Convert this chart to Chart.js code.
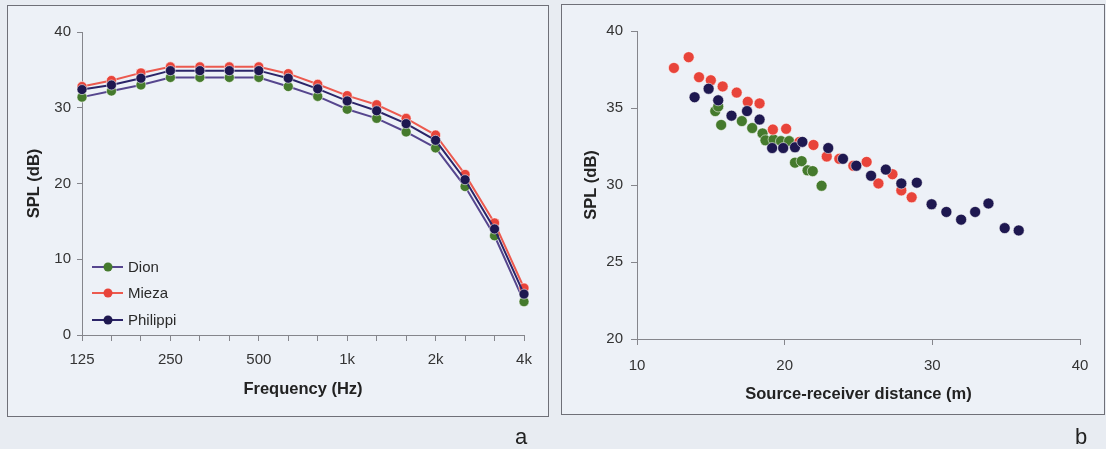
<!DOCTYPE html>
<html>
<head>
<meta charset="utf-8">
<script src="https://cdn.jsdelivr.net/npm/chart.js@4"></script>
<style>
  html, body { margin: 0; padding: 0; }
  body { width: 1106px; height: 449px; background: #e8ecf2; position: relative; overflow: hidden; font-family: "Liberation Sans", Arial, sans-serif; }
  .panel { position: absolute; box-sizing: border-box; border: 1px solid #6f7078; background: #edf1f7; }
  canvas { position: absolute; top: 0; }
  .tag { position: absolute; font-size: 22px; color: #222; font-family: "Liberation Sans", Arial, sans-serif; }
</style>
</head>
<body>
<div class="panel" style="left:7px;top:5px;width:542px;height:412px;"></div>
<div class="panel" style="left:561px;top:4px;width:544px;height:411px;"></div>
<canvas id="c1" width="553" height="449" style="left:0px;"></canvas>
<canvas id="c2" width="553" height="449" style="left:553px;"></canvas>
<div class="tag" style="left:515px;top:424px;">a</div>
<div class="tag" style="left:1075px;top:424px;">b</div>
<script>
// ---- Panel a: SPL vs frequency (1/3 octave bands) ----
const freqLabels = ['125','160','200','250','315','400','500','630','800','1k','1.25k','1.6k','2k','2.5k','3.15k','4k'];
const shownFreqLabels = ['125','250','500','1k','2k','4k'];
const dionFreq     = [31.4,32.2,33.0,34.0,34.0,34.0,34.0,32.8,31.5,29.8,28.6,26.8,24.7,19.6,13.1,4.4];
const miezaFreq    = [32.8,33.6,34.6,35.4,35.4,35.4,35.4,34.5,33.1,31.6,30.4,28.6,26.4,21.2,14.8,6.2];
const philippiFreq = [32.4,33.0,33.9,34.9,34.9,34.9,34.9,33.9,32.5,30.9,29.6,27.9,25.7,20.5,14.0,5.4];
const yTicksA = [0,10,20,30,40];

// ---- Panel b: SPL vs source-receiver distance ----
const dionDist = [15.3,15.5,15.7,17.1,17.8,18.5,18.7,19.25,19.75,20.3,20.7,21.15,21.55,21.9,22.5];
const dionSpl  = [34.8,35.1,33.9,34.15,33.7,33.35,32.9,32.95,32.85,32.85,31.45,31.55,30.95,30.9,29.95];
const miezaDist = [12.5,13.5,14.2,15.0,15.8,16.75,17.5,18.3,19.2,20.1,21.0,21.95,22.85,23.7,24.65,25.55,26.35,27.3,27.9,28.6];
const miezaSpl  = [37.6,38.3,37.0,36.8,36.4,36.0,35.4,35.3,33.6,33.65,32.8,32.6,31.85,31.7,31.25,31.5,30.1,30.7,29.65,29.2];
const philippiDist = [13.9,14.85,15.5,16.4,17.45,18.3,19.15,19.9,20.7,21.2,22.95,23.95,24.85,25.85,26.85,27.9,28.95,29.95,30.95,31.95,32.9,33.8,34.9,35.85];
const philippiSpl  = [35.7,36.25,35.5,34.5,34.8,34.25,32.4,32.4,32.45,32.8,32.4,31.7,31.25,30.6,31.0,30.1,30.15,28.75,28.25,27.75,28.25,28.8,27.2,27.05];

const siteNames = ['Dion','Mieza','Philippi'];
const pointColors = ['#457a2d','#e8443a','#1e1850'];
const lineColors  = ['#56468e','#ec5a4f','#2b2468'];
const drawOrder = [2, 1, 0]; // Philippi drawn on top, Dion underneath

Chart.defaults.font.family = '"Liberation Sans", Arial, sans-serif';
Chart.defaults.color = '#333';

const tickFont = { size: 15 };
const titleFont = { size: 16.5, weight: 'bold' };
const axisGray = '#85868c';

const legendPlugin = {
  id: 'insideLegend',
  afterDraw(chart) {
    const ctx = chart.ctx;
    const a = chart.chartArea;
    const offs = [-68, -42, -15];
    ctx.save();
    chart.data.datasets.forEach((ds, i) => {
      const y = a.bottom + offs[i];
      ctx.strokeStyle = ds.borderColor;
      ctx.lineWidth = 2;
      ctx.beginPath();
      ctx.moveTo(a.left + 10, y);
      ctx.lineTo(a.left + 41, y);
      ctx.stroke();
      ctx.fillStyle = ds.pointBackgroundColor;
      ctx.beginPath();
      ctx.arc(a.left + 26, y, 4.5, 0, Math.PI * 2);
      ctx.fill();
      ctx.fillStyle = '#2a2a2a';
      ctx.font = '15px "Liberation Sans", Arial, sans-serif';
      ctx.textBaseline = 'middle';
      ctx.textAlign = 'left';
      ctx.fillText(ds.label, a.left + 46, y + 1);
    });
    ctx.restore();
  }
};

const freqSeries = [dionFreq, miezaFreq, philippiFreq];
new Chart(document.getElementById('c1'), {
  type: 'line',
  data: {
    labels: freqLabels,
    datasets: freqSeries.map((d, i) => ({
      label: siteNames[i],
      data: d,
      order: drawOrder[i],
      borderColor: lineColors[i],
      borderWidth: 2,
      pointBackgroundColor: pointColors[i],
      pointBorderColor: 'rgba(255,255,255,0.55)',
      pointBorderWidth: 1,
      pointRadius: 5,
      tension: 0,
      fill: false
    }))
  },
  options: {
    responsive: false,
    animation: false,
    devicePixelRatio: 1,
    layout: { padding: { left: 0, right: 29, top: 32, bottom: 50 } },
    plugins: { legend: { display: false }, tooltip: { enabled: false } },
    scales: {
      x: {
        type: 'category',
        offset: false,
        grid: { display: true, drawOnChartArea: false, drawTicks: true, tickLength: 6, color: axisGray },
        border: { color: axisGray, width: 1 },
        ticks: {
          autoSkip: false, maxRotation: 0, padding: 10, font: tickFont, color: '#333',
          callback: (v, i) => (i % 3 === 0 ? shownFreqLabels[i / 3] : '')
        },
        title: { display: true, text: 'Frequency (Hz)', font: titleFont, color: '#222', padding: { top: 0, bottom: 0 } },
        afterFit: s => { s.height = 64; }
      },
      y: {
        min: 0, max: 40,
        afterBuildTicks: s => { s.ticks = yTicksA.map(v => ({ value: v })); },
        grid: { display: true, drawOnChartArea: false, drawTicks: true, tickLength: 5, color: axisGray },
        border: { color: axisGray, width: 1 },
        ticks: { padding: 6, font: tickFont, color: '#333' },
        title: { display: true, text: 'SPL (dB)', font: titleFont, color: '#222', padding: { top: 25, bottom: 0 } },
        afterFit: s => { s.width = 82; }
      }
    }
  },
  plugins: [legendPlugin]
});

const distX = [dionDist, miezaDist, philippiDist];
const distY = [dionSpl, miezaSpl, philippiSpl];
new Chart(document.getElementById('c2'), {
  type: 'scatter',
  data: {
    datasets: distX.map((xs, i) => ({
      label: siteNames[i],
      data: xs.map((x, k) => ({ x: x, y: distY[i][k] })),
      order: drawOrder[i],
      backgroundColor: pointColors[i],
      borderColor: 'rgba(255,255,255,0.55)',
      borderWidth: 1,
      pointRadius: 5.5,
      showLine: false
    }))
  },
  options: {
    responsive: false,
    animation: false,
    devicePixelRatio: 1,
    layout: { padding: { left: 0, right: 26, top: 31, bottom: 45 } },
    plugins: { legend: { display: false }, tooltip: { enabled: false } },
    scales: {
      x: {
        type: 'linear', min: 10, max: 40,
        ticks: { stepSize: 10, padding: 12, font: tickFont, color: '#333', maxRotation: 0 },
        grid: { display: true, drawOnChartArea: false, drawTicks: true, tickLength: 6, color: axisGray },
        border: { color: axisGray, width: 1 },
        title: { display: true, text: 'Source-receiver distance (m)', font: titleFont, color: '#222', padding: { top: 0, bottom: 0 } },
        afterFit: s => { s.height = 65; }
      },
      y: {
        type: 'linear', min: 20, max: 40,
        ticks: { stepSize: 5, padding: 8, font: tickFont, color: '#333' },
        grid: { display: true, drawOnChartArea: false, drawTicks: true, tickLength: 6, color: axisGray },
        border: { color: axisGray, width: 1 },
        title: { display: true, text: 'SPL (dB)', font: titleFont, color: '#222', padding: { top: 29, bottom: 0 } },
        afterFit: s => { s.width = 84; }
      }
    }
  }
});
</script>
</body>
</html>
